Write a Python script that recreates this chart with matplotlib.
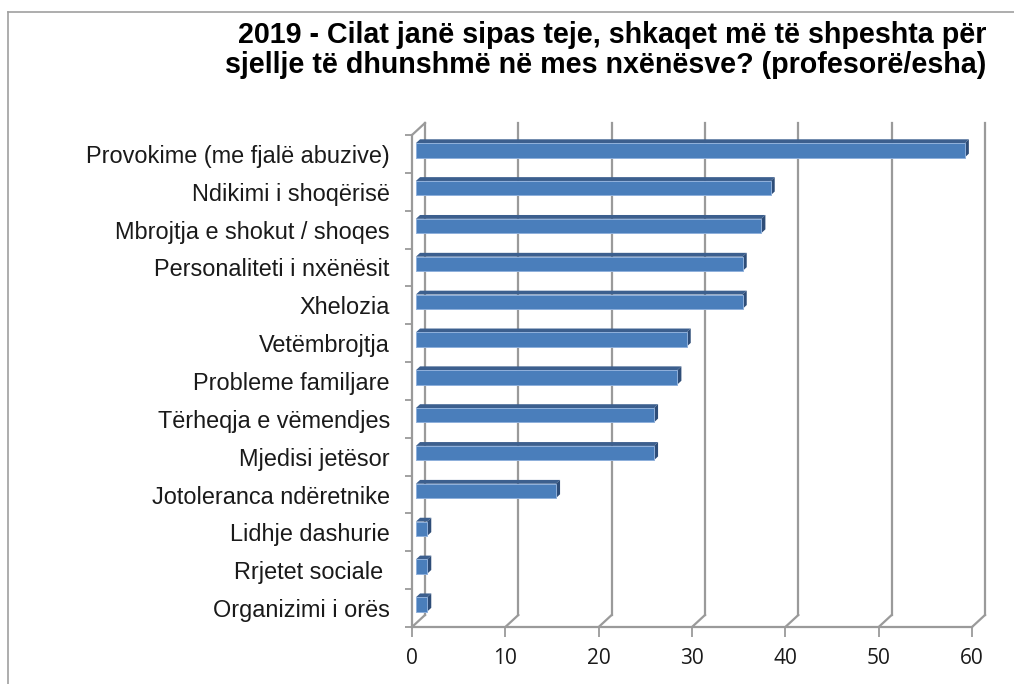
import matplotlib
matplotlib.use("Agg")
import matplotlib.pyplot as plt
from matplotlib.patches import Polygon
from matplotlib.lines import Line2D

categories = [
    "Provokime (me fjalë abuzive)",
    "Ndikimi i shoqërisë",
    "Mbrojtja e shokut / shoqes",
    "Personaliteti i nxënësit",
    "Xhelozia",
    "Vetëmbrojtja",
    "Probleme familjare",
    "Tërheqja e vëmendjes",
    "Mjedisi jetësor",
    "Jotoleranca ndëretnike",
    "Lidhje dashurie",
    "Rrjetet sociale ",
    "Organizimi i orës",
]
values = [58.8, 38, 37, 35, 35, 29, 28, 25.5, 25.5, 15, 1.2, 1.2, 1.2]
xticks = [0, 10, 20, 30, 40, 50, 60]
title = ("2019 - Cilat janë sipas teje, shkaqet më të shpeshta për\n"
         "sjellje të dhunshmë në mes nxënësve? (profesorë/esha)")

W, H = 1014, 684
fig = plt.figure(figsize=(W / 100, H / 100), dpi=100)
# front plane of the 3D plot area, in pixels
L, R, T, B = 412, 972, 135, 627
ax = fig.add_axes([L / W, (H - B) / H, (R - L) / W, (B - T) / H])
n = len(categories)
ax.set_xlim(0, 60)
ax.set_ylim(-0.5, n - 0.5)
ax.patch.set_visible(False)
for s in ax.spines.values():
    s.set_visible(False)

# depth offset (pixels) converted to data units
DX_PX, DY_PX = 13.0, 12.0
ux = (R - L) / 60.0
uy = (B - T) / n
dxu = DX_PX / ux
dyu = DY_PX / uy

def P(x, y, d):
    return (x + d * dxu, y + d * dyu)

grid_c = "#9a9a9a"
lw = 1.6
ylo, yhi = -0.5, n - 0.5
# back wall gridlines
for t in xticks:
    x0, y0 = P(t, ylo, 1)
    x1, y1 = P(t, yhi, 1)
    ax.add_line(Line2D([x0, x1], [y0, y1], color=grid_c, lw=lw, zorder=1, clip_on=False))
    # floor diagonals
    a = P(t, ylo, 0); b = P(t, ylo, 1)
    ax.add_line(Line2D([a[0], b[0]], [a[1], b[1]], color=grid_c, lw=lw, zorder=1, clip_on=False))
# front floor line
ax.add_line(Line2D([0, 60], [ylo, ylo], color=grid_c, lw=lw, zorder=1, clip_on=False))
# left wall front edge and top diagonal
ax.add_line(Line2D([0, 0], [ylo, yhi], color=grid_c, lw=lw, zorder=1, clip_on=False))
a = P(0, yhi, 0); b = P(0, yhi, 1)
ax.add_line(Line2D([a[0], b[0]], [a[1], b[1]], color=grid_c, lw=lw, zorder=1, clip_on=False))

# bars
d1, d2 = 0.3, 0.62
h = 0.38
front_c = "#4a7ebb"
top_c = "#3c5f8e"
side_c = "#2e4d78"
for i, (cat, v) in enumerate(zip(categories, values)):
    c = n - 1 - i
    y0, y1 = c - h / 2, c + h / 2
    front = [P(0, y0, d1), P(v, y0, d1), P(v, y1, d1), P(0, y1, d1)]
    top = [P(0, y1, d1), P(v, y1, d1), P(v, y1, d2), P(0, y1, d2)]
    side = [P(v, y0, d1), P(v, y0, d2), P(v, y1, d2), P(v, y1, d1)]
    ax.add_patch(Polygon(top, closed=True, facecolor=top_c, edgecolor="none", zorder=3, clip_on=False))
    ax.add_patch(Polygon(side, closed=True, facecolor=side_c, edgecolor="none", zorder=3, clip_on=False))
    ax.add_patch(Polygon(front, closed=True, facecolor=front_c, edgecolor="#8fb0db", lw=0.7, zorder=4, clip_on=False))

# y axis: ticks at boundaries, labels at centres
ax.set_yticks([k - 0.5 for k in range(n + 1)])
ax.set_yticklabels([])
ax.set_yticks(list(range(n)), minor=True)
ax.set_yticklabels(categories[::-1], minor=True, fontsize=16.9, family="Liberation Sans", color="#1a1a1a")
ax.tick_params(axis="y", which="major", length=5, width=1.3, color=grid_c, direction="out")
ax.tick_params(axis="y", which="minor", length=0, pad=16)

ax.set_xticks(xticks)
ax.set_xticklabels([str(t) for t in xticks], fontsize=15, family="Open Sans", color="#1a1a1a")
ax.tick_params(axis="x", length=7, width=1.3, color=grid_c, direction="out", pad=8)

fig.text(986 / W, 1 - 21 / H, title, ha="right", va="top", multialignment="right",
         fontsize=20.6, fontweight="bold", family="Liberation Sans", linespacing=1.08, color="#000000")

# figure border (left and top)
fig.add_artist(Line2D([8 / W, 8 / W], [0, 1 - 12 / H], transform=fig.transFigure, color="#a0a0a0", lw=1.2))
fig.add_artist(Line2D([8 / W, 1], [1 - 12 / H, 1 - 12 / H], transform=fig.transFigure, color="#a0a0a0", lw=1.2))

fig.savefig("out.png", dpi=100)
